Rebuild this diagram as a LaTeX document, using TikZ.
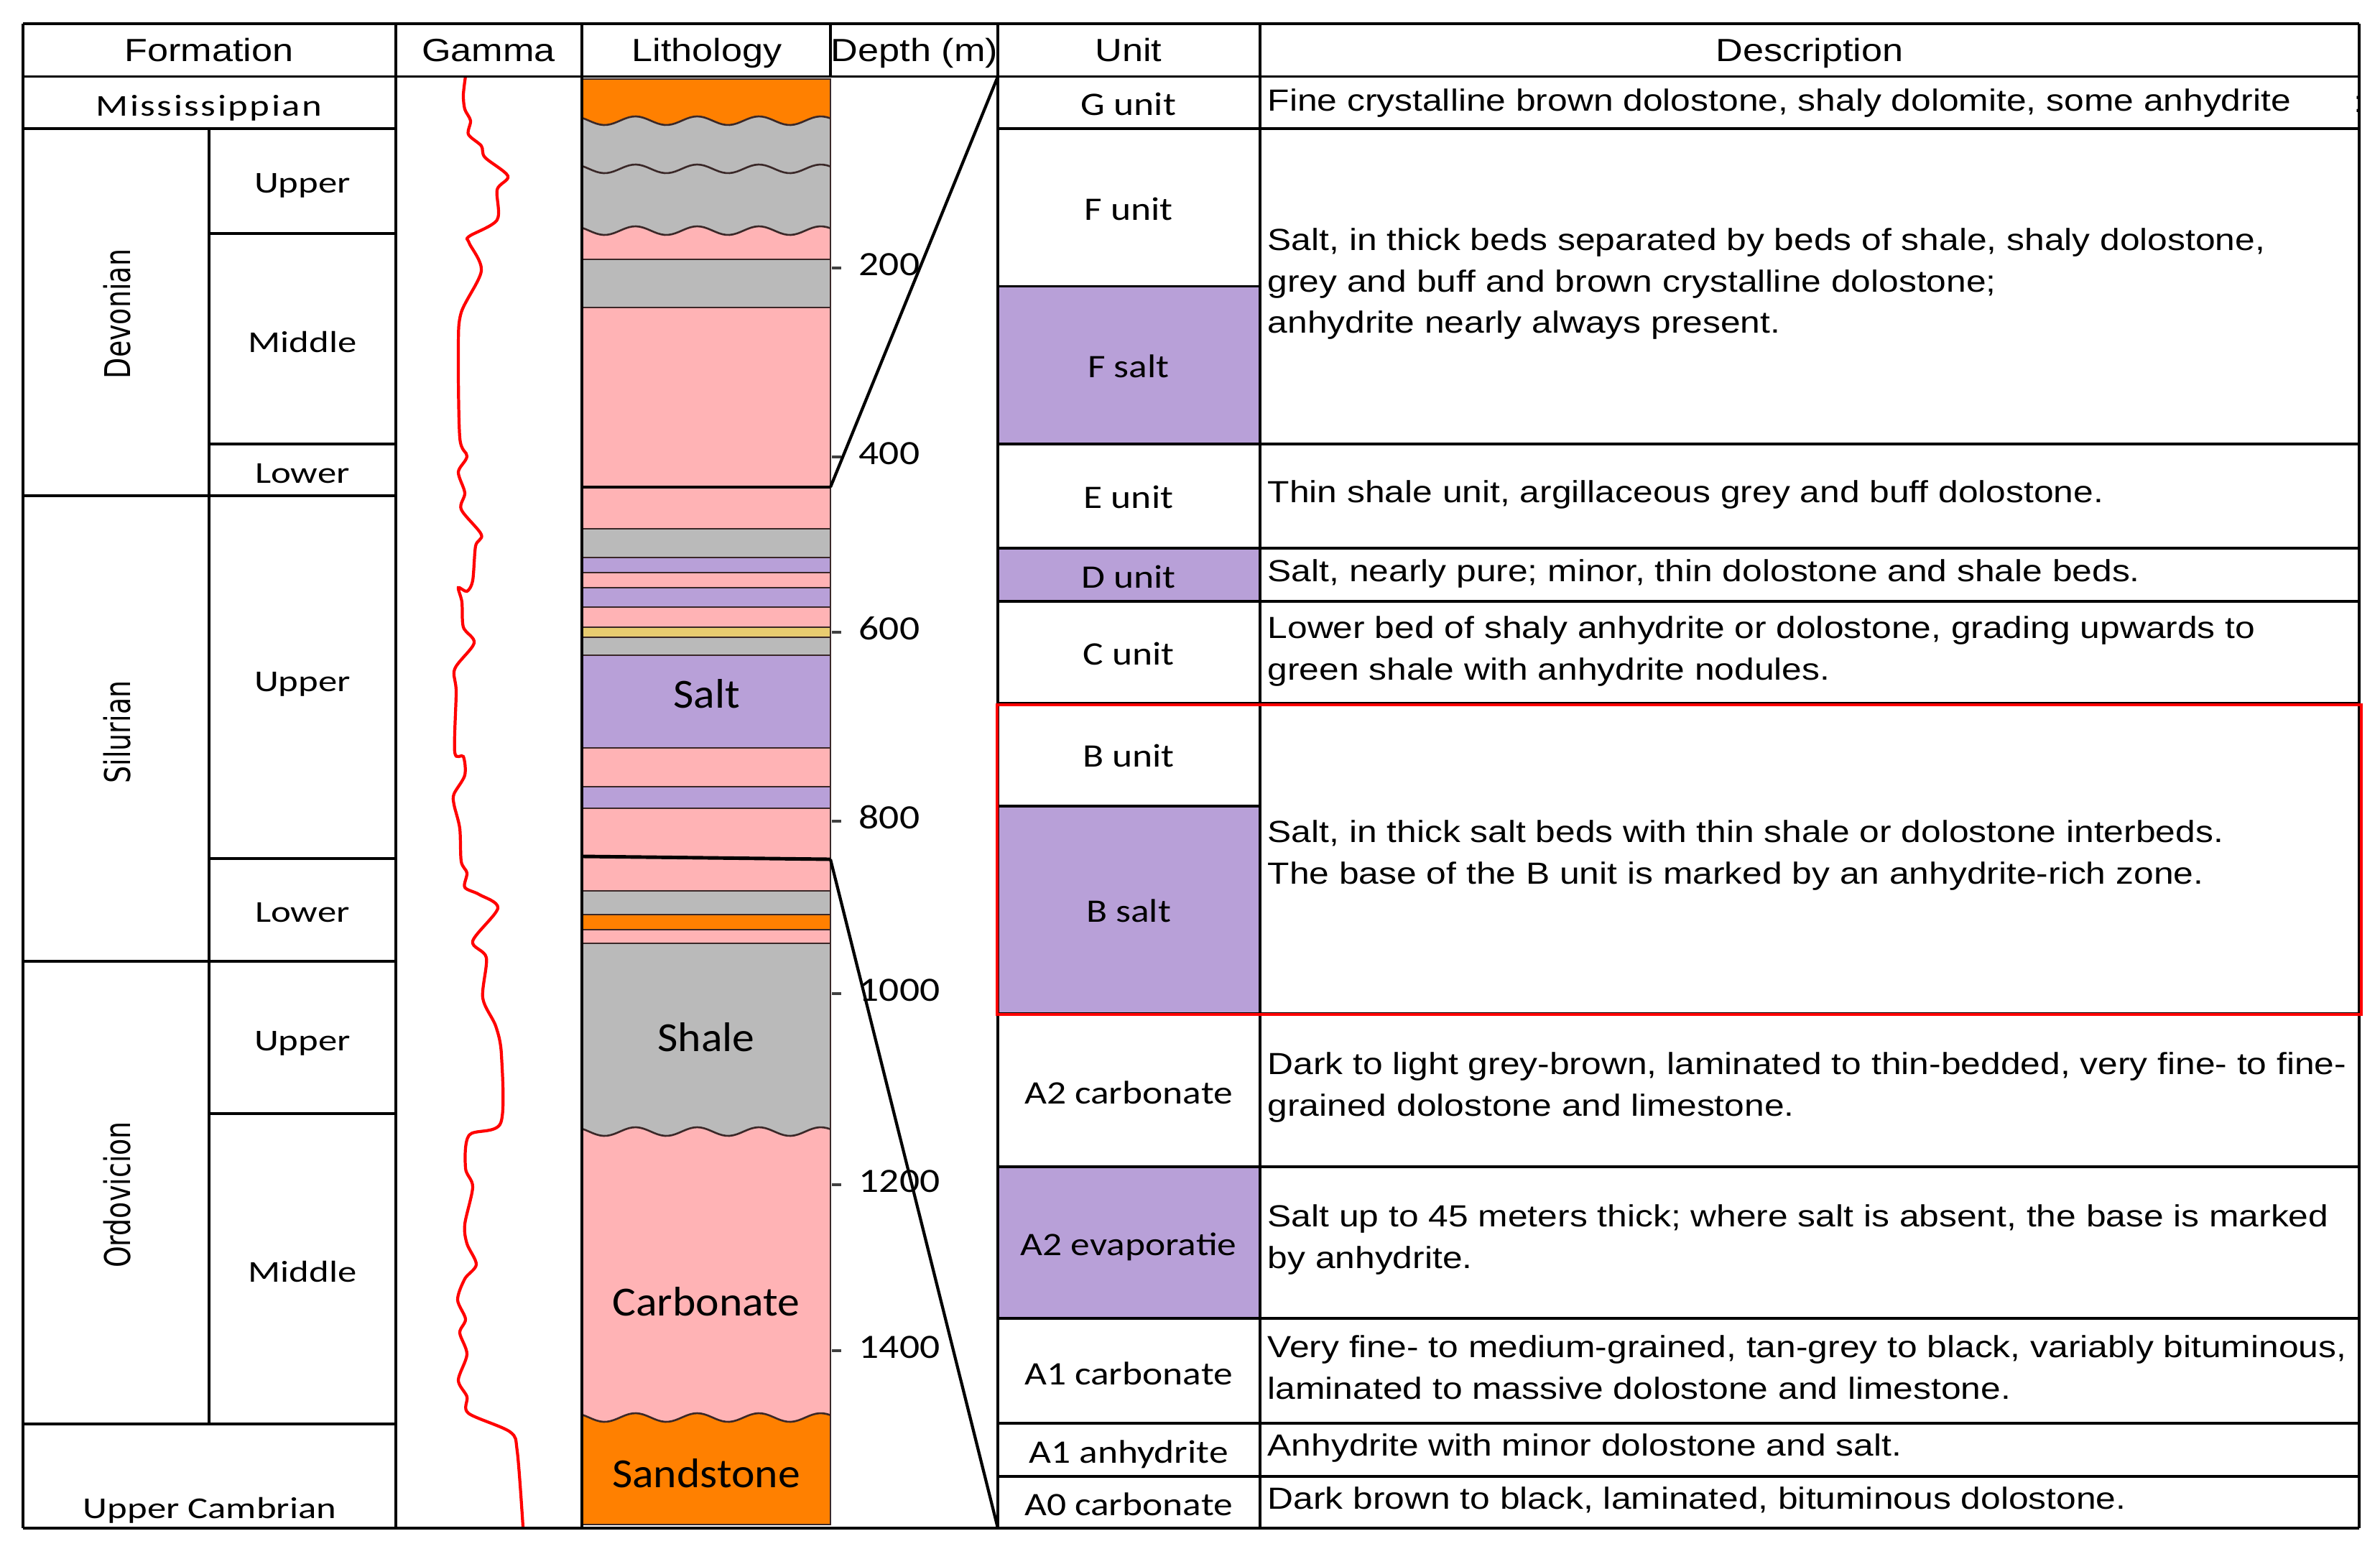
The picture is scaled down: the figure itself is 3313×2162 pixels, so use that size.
\documentclass[tikz,border=0pt]{standalone}
\usepackage{fontspec}
\usepackage{graphicx}
\usepackage{xcolor}
\setmainfont{Liberation Sans}[FakeStretch=1.17]
\newfontfamily\agefont{Carlito}[FakeStretch=1.25]
\newfontfamily\unitfont{Carlito}[FakeStretch=1.17]
\newfontfamily\litfont{Carlito}[FakeStretch=1.07]
\newfontfamily\erafont{DejaVu Sans}
\definecolor{orangeL}{HTML}{FF8000}
\definecolor{greyL}{HTML}{BABABA}
\definecolor{pinkL}{HTML}{FFB3B5}
\definecolor{purpleL}{HTML}{B8A0D8}
\definecolor{yellowL}{HTML}{E8CC70}
\definecolor{bedcol}{HTML}{3A2828}
\tikzset{
  tabline/.style={line width=1.05pt},
  hdr/.style={font=\fontsize{12.7}{15}\selectfont, anchor=base},
  desc/.style={font=\fontsize{12.1}{16.5}\selectfont, align=left, anchor=west, inner sep=0pt},
  age/.style={font=\agefont\fontsize{12}{14}\selectfont, anchor=base},
  era/.style={rotate=90, font=\erafont\fontsize{10.8}{13}\selectfont},
  unitlab/.style={font=\unitfont\fontsize{13}{15}\selectfont, anchor=base},
  litlab/.style={font=\litfont\fontsize{16.4}{19}\selectfont, anchor=base},
  deplab/.style={font=\unitfont\fontsize{13.5}{15}\selectfont, anchor=base west, inner sep=0pt},
  bedline/.style={draw=bedcol, line width=0.75pt},
  corr/.style={draw=black, line width=1.2pt}
}
\begin{document}
\begin{tikzpicture}[x=0.1mm,y=-0.1mm]
\useasboundingbox (0,0) rectangle (3313,2162);
\fill[white] (0,0) rectangle (3313,2162);

\begin{scope}
  \clip (810,110) rectangle (1156,2122);
  \foreach \ya/\yb/\col/\w in {110/168/orangeL/0, 168/235/greyL/1, 235/321/greyL/1, 321/361/pinkL/1,
      361/428/greyL/0, 428/736/pinkL/0, 736/776/greyL/0, 776/797/purpleL/0, 797/818/pinkL/0,
      818/845/purpleL/0, 845/873/pinkL/0, 873/887/yellowL/0, 887/912/greyL/0, 912/1041/purpleL/0,
      1041/1095/pinkL/0, 1095/1125/purpleL/0, 1125/1240/pinkL/0, 1240/1273/greyL/0,
      1273/1294/orangeL/0, 1294/1313/pinkL/0, 1313/1575/greyL/0, 1575/1973/pinkL/1, 1973/2122/orangeL/1}{
    \ifnum\w=0
      \fill[\col] (810,\ya) rectangle (1156,\yb+8);
      \draw[bedline] (810,\ya) -- (1156,\ya);
    \else
      \fill[\col] plot[domain=810:1156,samples=70] (\x,{\ya-6*sin(360*((\x-863)/86))}) -- (1156,\yb+8) -- (810,\yb+8) -- cycle;
      \draw[bedline] plot[domain=810:1156,samples=70] (\x,{\ya-6*sin(360*((\x-863)/86))});
    \fi
  }
\end{scope}
\draw[bedline] (810,110) rectangle (1156,2122);

\node[litlab] (salt) at (984,985) {Salt};
\node[litlab] (shale) at (983,1463) {Shale};
\node[litlab] (carb) at (983,1831) {Carbonate};
\node[litlab] (sand) at (983,2070) {Sandstone};

\draw[red, line width=1.2pt] plot[smooth, tension=0.5] coordinates {
  (648,106) (645,132) (647,152) (655,168) (652,187) (670,203) (675,219) (707,245) (692,264)
  (692,306) (653,329) (653,338) (670,377) (642,435) (638,486) (640,609) (650,635) (638,657)
  (647,686) (642,709) (670,744) (662,760) (658,808) (650,823) (638,818) (643,838) (645,873)
  (660,895) (633,931) (635,963) (633,1047) (645,1053) (647,1079) (632,1105) (632,1120)
  (640,1153) (642,1199) (650,1215) (647,1235) (667,1245) (693,1264) (658,1310) (677,1333)
  (672,1389) (690,1428) (698,1468) (697,1563) (653,1580) (648,1626) (658,1652) (647,1704)
  (650,1731) (663,1760) (647,1780) (637,1809) (648,1836) (640,1855) (650,1885) (638,1921)
  (650,1944) (652,1967) (710,1993) (720,2020) (728,2125)};

\foreach \d/\y in {200/373, 400/636, 600/880, 800/1143, 1000/1383, 1200/1649, 1400/1880}{
  \draw[line width=1pt, black!75] (1158,\y) -- (1171,\y);
  \node[deplab] (d\d) at (1195,\y+10) {\d};
}

\fill[purpleL] (1389,398.5) rectangle (1754,618);
\fill[purpleL] (1389,763) rectangle (1754,837);
\fill[purpleL] (1389,1122) rectangle (1754,1411);
\fill[purpleL] (1389,1624) rectangle (1754,1835);

\draw[tabline] (32,33) -- (3284,33);
\draw[tabline] (32,106.5) -- (3284,106.5);
\draw[tabline] (32,2127) -- (3284,2127);
\foreach \xx in {32,551,810,1389,1754,3284}
  \draw[tabline] (\xx,33) -- (\xx,2127);
\draw[tabline] (1156,33) -- (1156,106.5);
\foreach \yy in {179,690,1338,1982}
  \draw[tabline] (32,\yy) -- (551,\yy);
\draw[tabline] (291,179) -- (291,1982);
\foreach \yy in {325,618,1195,1550}
  \draw[tabline] (291,\yy) -- (551,\yy);
\foreach \yy in {179,618,763,837,979,1411,1624,1835,1981,2055}
  \draw[tabline] (1389,\yy) -- (3284,\yy);
\draw[tabline] (1389,398.5) -- (1754,398.5);
\draw[tabline] (1389,1122) -- (1754,1122);
\draw[red, line width=1.3pt] (1388,981) rectangle (3287,1412);

\coordinate (cTopL) at (810,678);
\coordinate (cTopR) at (1156,678);
\coordinate (cG) at (1389,106.5);
\coordinate (cBotL) at (812,1192);
\coordinate (cBotR) at (1156,1196);
\coordinate (cA0) at (1389,2127);
\draw[corr, line width=1.4pt] (cTopL) -- (cTopR);
\draw[corr] (cTopR) -- (cG);
\draw[corr, line width=1.4pt] (cBotL) -- (cBotR);
\draw[corr] (cBotR) -- (cA0);

\node[hdr] (hForm) at (291,85) {Formation};
\node[hdr] (hGam) at (680,85) {Gamma};
\node[hdr] (hLit) at (984,85) {Lithology};
\node[hdr] (hDep) at (1273,85) {Depth (m)};
\node[hdr] (hUnit) at (1571,85) {Unit};
\node[hdr] (hDesc) at (2519,85) {Description};

\node[age] (mis) at (291,161) {\addfontfeatures{LetterSpace=6}Mississippian};
\node[era] (dev) at (163,437) {\scalebox{1}[1.3]{Devonian}};
\node[era] (sil) at (163,1019) {\scalebox{1}[1.3]{Silurian}};
\node[era] (ord) at (163,1663) {\scalebox{1}[1.3]{Ordovicion}};
\node[age] (devU) at (421,268) {Upper};
\node[age] (devM) at (421,490) {Middle};
\node[age] (devL) at (421,672) {Lower};
\node[age] (silU) at (421,962) {Upper};
\node[age] (silL) at (421,1283) {Lower};
\node[age] (ordU) at (421,1462) {Upper};
\node[age] (ordM) at (421,1784) {Middle};
\node[age] (camb) at (292,2113) {Upper Cambrian};

\node[unitlab] (uG) at (1571,160) {G unit};
\node[unitlab] (uF) at (1571,306) {F unit};
\node[unitlab] (uFs) at (1571,525) {F salt};
\node[unitlab] (uE) at (1571,707) {E unit};
\node[unitlab] (uD) at (1571,818) {D unit};
\node[unitlab] (uC) at (1571,925) {C unit};
\node[unitlab] (uB) at (1571,1067) {B unit};
\node[unitlab] (uBs) at (1571,1283) {B salt};
\node[unitlab] (uA2c) at (1571,1536) {A2 carbonate};
\node[unitlab] (uA2e) at (1571,1747) {A2 evaporatie};
\node[unitlab] (uA1c) at (1571,1927) {A1 carbonate};
\node[unitlab] (uA1a) at (1571,2036) {A1 anhydrite};
\node[unitlab] (uA0) at (1571,2109) {A0 carbonate};

\node[desc] (tG) at (1764,143) {Fine crystalline brown dolostone, shaly dolomite, some anhydrite};
\node[desc] (gmark) at (3276,145) {:};
\node[desc] (tF) at (1764,395) {Salt, in thick beds separated by beds of shale, shaly dolostone,\\grey and buff and brown crystalline dolostone;\\anhydrite nearly always present.};
\node[desc] (tE) at (1764,688) {Thin shale unit, argillaceous grey and buff dolostone.};
\node[desc] (tD) at (1764,798) {Salt, nearly pure; minor, thin dolostone and shale beds.};
\node[desc] (tC) at (1764,906) {Lower bed of shaly anhydrite or dolostone, grading upwards to\\green shale with anhydrite nodules.};
\node[desc] (tB) at (1764,1190) {Salt, in thick salt beds with thin shale or dolostone interbeds.\\The base of the B unit is marked by an anhydrite-rich zone.};
\node[desc] (tA2c) at (1764,1513) {Dark to light grey-brown, laminated to thin-bedded, very fine- to fine-\\grained dolostone and limestone.};
\node[desc] (tA2e) at (1764,1725) {Salt up to 45 meters thick; where salt is absent, the base is marked\\by anhydrite.};
\node[desc] (tA1c) at (1764,1903) {Very fine- to medium-grained, tan-grey to black, variably bituminous,\\laminated to massive dolostone and limestone.};
\node[desc] (tA1a) at (1764,2015) {Anhydrite with minor dolostone and salt.};
\node[desc] (tA0) at (1764,2088) {Dark brown to black, laminated, bituminous dolostone.};
\end{tikzpicture}
\end{document}
